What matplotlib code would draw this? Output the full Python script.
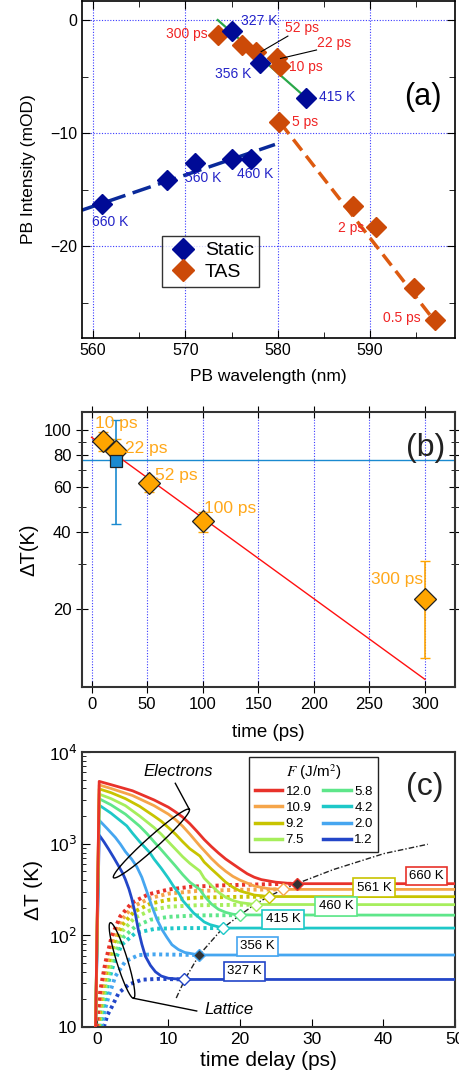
import numpy as np
import matplotlib
matplotlib.use('Agg')
import matplotlib.pyplot as plt
from matplotlib.ticker import FixedLocator, NullFormatter, FixedFormatter, MultipleLocator
from matplotlib.lines import Line2D

plt.rcParams['font.family'] = ['Liberation Sans', 'DejaVu Sans']

# ---------------- data (a) ----------------
static_wl = [575.1, 578.1, 583.1, 577.1, 575.0, 571.0, 568.0, 561.0]
static_pb = [-1.0, -3.8, -6.9, -12.3, -12.3, -12.6, -14.1, -16.3]
tas_wl = [573.5, 576.1, 577.7, 579.9, 580.2, 580.1, 588.1, 590.6, 594.8, 597.0]
tas_pb = [-1.3, -2.2, -2.8, -3.4, -4.1, -9.0, -16.4, -18.3, -23.7, -26.5]
green_fit_wl = [573.5, 583.1]
green_fit_pb = [0.0, -6.9]
navy_fit_wl = [558.8, 579.7]
navy_fit_pb = [-16.8, -11.0]
orange_fit_wl = [580.3, 597.0]
orange_fit_pb = [-9.1, -26.6]
static_text = ["327 K", "356 K", "415 K", "460 K", "560 K", "660 K"]
static_text_xy = [(578.0, -0.06), (575.2, -4.8), (586.4, -6.8), (577.6, -13.65), (571.9, -14.0), (561.8, -17.85)]
tas_text = ["300 ps", "52 ps", "22 ps", "10 ps", "5 ps", "2 ps", "0.5 ps"]
tas_text_xy = [(570.2, -1.27), (582.6, -0.73), (586.1, -2.06), (583.0, -4.19), (583.0, -9.05), (588.0, -18.4), (593.4, -26.3)]

# ---------------- data (b) ----------------
b_time = [10, 22, 52, 100, 300]
b_dT = [90.6, 83, 62, 43.9, 21.9]
b_lo = [83, 77, 57, 40, 12.9]
b_hi = [98.5, 92, 66, 48, 30.8]
b_text = ["10 ps", "22 ps", "52 ps", "100 ps", "300 ps"]
b_text_xy = [(22.5, 106.2), (49.5, 84.8), (76.5, 66.1), (125.1, 49.4), (274.5, 26.1)]
sq_time = [22]
sq_dT = [75.8]
sq_lo = [43]
sq_hi = [109]
fit_time = [0, 300]
fit_dT = [93.6, 10.6]
hline_dT = 76

# ---------------- data (c) ----------------
fluences = ["12.0", "10.9", "9.2", "7.5", "5.8", "4.2", "2.0", "1.2"]
colors_c = ["#e8322a", "#f5a54a", "#c8c400", "#a6ee5c", "#5ee68a", "#1ec8c8", "#46a6f0", "#2346c8"]

el_t_12_0 = [-0.15, 0.35, 2, 5, 8, 10, 11, 12, 13, 14, 15, 16, 17, 18, 19, 20, 21, 22, 23, 25, 27, 28, 50]
el_T_12_0 = [10, 4780, 4400, 3775, 3000, 2500, 2220, 1950, 1650, 1360, 1110, 930, 790, 680, 600, 530, 470, 430, 405, 380, 368, 366, 366]
el_t_10_9 = [-0.15, 0.35, 2, 5, 8, 10, 11, 12, 13, 14.4, 15, 16, 17, 18, 19, 20, 22, 24, 26, 50]
el_T_10_9 = [10, 4370, 4000, 3350, 2600, 2100, 1830, 1550, 1270, 944, 840, 690, 580, 500, 440, 400, 345, 322, 317, 317]
el_t_9_2 = [-0.15, 0.35, 2, 4, 6, 8, 9, 10, 11, 12, 13, 14.4, 15, 16, 17, 18, 19, 20, 22, 24, 50]
el_T_9_2 = [10, 3960, 3600, 3100, 2550, 2000, 1760, 1500, 1270, 1050, 880, 733, 630, 530, 450, 380, 335, 305, 275, 265, 264]
el_t_7_5 = [-0.15, 0.35, 2, 4, 6, 8, 9, 10, 11, 12, 13, 14.4, 15, 16, 17, 18, 19, 20, 22, 50]
el_T_7_5 = [10, 3470, 3100, 2600, 2000, 1500, 1270, 1050, 870, 720, 610, 502, 420, 350, 295, 260, 240, 228, 217, 216]
el_t_5_8 = [-0.15, 0.35, 2, 4, 6, 7, 8, 9, 10, 11, 12, 13, 14.4, 15, 16, 17, 18, 19, 20, 50]
el_T_5_8 = [10, 3090, 2650, 2100, 1550, 1290, 1050, 860, 700, 570, 460, 380, 316, 270, 220, 192, 178, 170, 167, 166]
el_t_4_2 = [-0.15, 0.35, 2, 3, 4.2, 5, 6, 7.4, 8, 9, 10, 10.7, 11.5, 12, 13.5, 15, 15.8, 17.6, 50]
el_T_4_2 = [10, 2630, 2150, 1860, 1563, 1300, 1050, 800, 680, 540, 420, 345, 285, 240, 176, 140, 131, 120, 120]
el_t_2_0 = [-0.15, 0.35, 1.5, 2.6, 3.3, 4, 4.9, 5.6, 6.3, 7, 7.7, 8.4, 9.1, 9.8, 10.5, 11.4, 12.3, 14.3, 50]
el_T_2_0 = [10, 1800, 1450, 1170, 990, 820, 675, 560, 430, 300, 208, 150, 116, 95, 79, 70, 65, 61, 61]
el_t_1_2 = [-0.15, 0.35, 1.0, 1.67, 2.4, 3.06, 3.6, 4.0, 4.5, 4.9, 5.4, 5.8, 6.3, 6.8, 7.5, 8.2, 9.0, 10, 12.2, 50]
el_T_1_2 = [10, 1240, 1050, 870, 700, 570, 480, 408, 320, 250, 170, 116, 80, 59, 47, 40, 36, 34, 33, 33]

la_t_12_0 = [0.0, 0.5, 1.2, 2.1, 3.3, 4.9, 7.2, 10, 13.3, 18, 23, 27.9]
la_T_12_0 = [10, 25, 50, 98, 162, 226, 280, 316, 340, 352, 360, 366]
la_t_10_9 = [0.1, 0.6, 1.3, 2.2, 3.4, 5, 7.5, 10, 14, 20, 26]
la_T_10_9 = [10, 22, 45, 88, 145, 205, 255, 285, 305, 314, 317]
la_t_9_2 = [0.2, 0.7, 1.4, 2.3, 3.5, 5.2, 7.5, 10, 14, 20, 24.1]
la_T_9_2 = [10, 21, 42, 80, 128, 180, 222, 244, 258, 263, 264]
la_t_7_5 = [0.3, 0.8, 1.5, 2.4, 3.6, 5.3, 7.5, 10, 14, 22.2]
la_T_7_5 = [10, 20, 38, 72, 112, 155, 188, 205, 213, 216]
la_t_5_8 = [0.4, 0.9, 1.6, 2.5, 3.7, 5.4, 7.5, 10, 14, 20]
la_T_5_8 = [10, 19, 35, 62, 95, 125, 148, 159, 165, 166]
la_t_4_2 = [0.5, 1.0, 1.7, 2.4, 3.5, 5.4, 8.2, 12, 17.6]
la_T_4_2 = [10, 18, 32, 50, 79, 106, 118, 120, 120]
la_t_2_0 = [0.7, 1.2, 1.67, 2.6, 4.0, 5.85, 8, 14.3]
la_T_2_0 = [10, 16, 21.6, 35.7, 52, 61, 62, 61]
la_t_1_2 = [1.0, 1.5, 2.13, 3.06, 4.46, 6.3, 8.6, 12.2]
la_T_1_2 = [10, 13.5, 16.7, 23.5, 29, 32.8, 33.5, 33]

eq_t = [27.9, 26, 24.1, 22.2, 20, 17.6, 14.3, 12.2]
eq_T = [366, 317, 264, 216, 166, 120, 61, 33]
eq_filled = [True, False, False, False, False, False, True, False]

dashdot_t = [11.1, 12.3, 14.3, 17.6, 20, 22, 24.1, 26, 27.9, 33, 40.1, 46.2]
dashdot_T = [20.7, 33, 61, 120, 166, 216, 268, 316, 366, 521, 780, 985]

temp_text = ["660 K", "561 K", "460 K", "415 K", "356 K", "327 K"]
temp_text_xy = [(46.0, 446), (38.7, 331), (33.4, 207), (26.0, 149), (22.4, 76), (20.6, 40.4)]
temp_text_color = ["#e8322a", "#c8c400", "#5ee68a", "#1ec8c8", "#46a6f0", "#2346c8"]

electrons = [(el_t_12_0, el_T_12_0), (el_t_10_9, el_T_10_9), (el_t_9_2, el_T_9_2), (el_t_7_5, el_T_7_5),
             (el_t_5_8, el_T_5_8), (el_t_4_2, el_T_4_2), (el_t_2_0, el_T_2_0), (el_t_1_2, el_T_1_2)]
lattice = [(la_t_12_0, la_T_12_0), (la_t_10_9, la_T_10_9), (la_t_9_2, la_T_9_2), (la_t_7_5, la_T_7_5),
           (la_t_5_8, la_T_5_8), (la_t_4_2, la_T_4_2), (la_t_2_0, la_T_2_0), (la_t_1_2, la_T_1_2)]

W, H = 459, 1082
fig = plt.figure(figsize=(W / 100, H / 100), dpi=100)

def add_ax(left, right, top, bottom):
    return fig.add_axes([left / W, 1 - bottom / H, (right - left) / W, (bottom - top) / H])

# ================= panel (a) =================
axA = add_ax(82, 455, 1, 338)
gridc = '#3a3aff'
for xv in [560, 570, 580, 590]:
    axA.axvline(xv, color=gridc, ls=(0, (1, 1.5)), lw=0.8, zorder=0)
for yv in [0, -10, -20]:
    axA.axhline(yv, color=gridc, ls=(0, (1, 1.5)), lw=0.8, zorder=0)
axA.plot(green_fit_wl, green_fit_pb, color='#2aa84a', lw=1.6, zorder=2)
axA.plot(navy_fit_wl, navy_fit_pb, color='#0a2a9a', lw=2.5, ls=(0, (5.5, 2.2)), zorder=2)
axA.plot(orange_fit_wl, orange_fit_pb, color='#dd5a10', lw=2.5, ls=(0, (4, 2)), zorder=2)
axA.plot(tas_wl, tas_pb, 'D', color='#cc4a08', ms=10, mec='#cc4a08', zorder=4, label='TAS')
axA.plot(static_wl, static_pb, 'D', color='#000a96', ms=10, zorder=5, label='Static')
for s, (x, y) in zip(static_text, static_text_xy):
    axA.text(x, y, s, color='#2424c8', fontsize=10, ha='center', va='center', zorder=6)
for s, (x, y) in zip(tas_text, tas_text_xy):
    axA.text(x, y, s, color='#f02424', fontsize=10, ha='center', va='center', zorder=6)
axA.plot([581.1, 578.2], [-1.42, -2.8], color='k', lw=0.8, zorder=6)
axA.plot([584.2, 580.3], [-2.65, -3.4], color='k', lw=0.8, zorder=6)
axA.set_xlim(558.8, 599.2)
axA.set_ylim(-28.1, 1.68)
axA.xaxis.set_major_locator(FixedLocator([560, 570, 580, 590]))
axA.xaxis.set_minor_locator(MultipleLocator(5))
axA.yaxis.set_major_locator(FixedLocator([0, -10, -20]))
axA.yaxis.set_minor_locator(FixedLocator([-5, -15, -25]))
axA.tick_params(which='both', direction='in', top=True, right=True, labelsize=11.5)
axA.tick_params(which='major', length=6)
axA.tick_params(which='minor', length=4)
axA.set_xlabel('PB wavelength (nm)', fontsize=12.5, labelpad=8)
axA.set_ylabel('PB Intensity (mOD)', fontsize=12.5, labelpad=10)
h_static = Line2D([], [], marker='D', color='#000a96', ls='none', ms=11)
h_tas = Line2D([], [], marker='D', color='#cc4a08', ls='none', ms=11)
legA = axA.legend([h_static, h_tas], ['Static', 'TAS'], loc='upper left', bbox_to_anchor=(0.2145, 0.3027),
                  fontsize=14, frameon=True, fancybox=False, borderpad=0.3, handletextpad=0.3,
                  handlelength=1.6, labelspacing=0.2, borderaxespad=0)
legA.get_frame().set_edgecolor('k')
legA.get_frame().set_linewidth(1.0)
axA.text(0.914, 0.715, '(a)', transform=axA.transAxes, fontsize=22, ha='center', va='center')
for sp in axA.spines.values():
    sp.set_linewidth(1.2)

# ================= panel (b) =================
axB = add_ax(82, 455, 412, 687)
axB.set_yscale('log')
for xv in range(0, 301, 50):
    axB.axvline(xv, color=gridc, ls=(0, (1, 1.5)), lw=0.8, zorder=0)
axB.axhline(hline_dT, color='#1a8ad0', lw=1.0, zorder=1)
axB.plot(fit_time, fit_dT, color='#ff1010', lw=1.0, zorder=2)
b_err = [np.array(b_dT) - np.array(b_lo), np.array(b_hi) - np.array(b_dT)]
axB.errorbar(b_time, b_dT, yerr=b_err, fmt='none', ecolor='#ffa500', elinewidth=1.2, capsize=3.5, zorder=3)
sq_err = [np.array(sq_dT) - np.array(sq_lo), np.array(sq_hi) - np.array(sq_dT)]
axB.errorbar(sq_time, sq_dT, yerr=sq_err, fmt='none', ecolor='#1a8ad0', elinewidth=1.2, capsize=3.5, zorder=3)
axB.plot(b_time, b_dT, 'D', color='#ffa500', mec='#222222', mew=0.9, ms=11, zorder=4)
axB.plot(sq_time, sq_dT, 's', color='#1a8ad0', mec='#222222', mew=0.9, ms=9, zorder=5)
for s, (x, y) in zip(b_text, b_text_xy):
    axB.text(x, y, s, color='#ffa81a', fontsize=12.5, ha='center', va='center', zorder=6)
axB.set_xlim(-8.6, 327)
axB.set_ylim(9.9, 117.5)
axB.xaxis.set_major_locator(FixedLocator(list(range(0, 301, 50))))
axB.yaxis.set_major_locator(FixedLocator([20, 40, 60, 80, 100]))
axB.yaxis.set_major_formatter(FixedFormatter(['20', '40', '60', '80', '100']))
axB.yaxis.set_minor_locator(FixedLocator([30, 50, 70, 90]))
axB.yaxis.set_minor_formatter(NullFormatter())
axB.tick_params(which='both', direction='inout', top=True, right=True, labelsize=12)
axB.tick_params(which='major', length=8)
axB.tick_params(which='minor', length=6)
axB.set_xlabel('time (ps)', fontsize=13.5, labelpad=8)
axB.set_ylabel('ΔT(K)', fontsize=14.5, labelpad=4)
axB.text(0.92, 0.869, '(b)', transform=axB.transAxes, fontsize=23, ha='center', va='center', color='#222222')
for sp in axB.spines.values():
    sp.set_linewidth(1.5)
    sp.set_color('#333333')

# ================= panel (c) =================
axC = add_ax(82, 455, 752, 1027)
axC.set_yscale('log')
for i in range(len(fluences) - 1, -1, -1):
    t, T = lattice[i]
    axC.plot(t, T, color=colors_c[i], lw=2.8, ls=(0, (0.8, 0.9)), zorder=2 + 0.01 * (8 - i))
for i in range(len(fluences) - 1, -1, -1):
    t, T = electrons[i]
    axC.plot(t, T, color=colors_c[i], lw=2.0, zorder=3 + 0.01 * (8 - i), label=fluences[i])
axC.plot(dashdot_t, dashdot_T, color='#222222', lw=1.0, ls=(0, (4, 1.5, 1, 1.5)), zorder=5)
for i in range(len(eq_t)):
    if eq_filled[i]:
        axC.plot(eq_t[i], eq_T[i], 'D', ms=6, mfc='#333333', mec=colors_c[i], mew=1.0, zorder=6)
    else:
        axC.plot(eq_t[i], eq_T[i], 'D', ms=6, mfc='white', mec=colors_c[i], mew=1.0, zorder=6)
for s, (x, y), c in zip(temp_text, temp_text_xy, temp_text_color):
    axC.text(x, y, s, fontsize=9.5, ha='center', va='center', zorder=7,
             bbox=dict(boxstyle='square,pad=0.25', fc='white', ec=c, lw=1.2))
axC.set_xlim(-2.05, 50)
axC.set_ylim(10, 1e4)
axC.xaxis.set_major_locator(FixedLocator([0, 10, 20, 30, 40, 50]))
axC.yaxis.set_major_locator(FixedLocator([10, 100, 1000, 10000]))
axC.yaxis.set_major_formatter(FixedFormatter(['10', '10$^2$', '10$^3$', '10$^4$']))
axC.tick_params(which='both', direction='in', labelsize=12.5)
axC.tick_params(which='major', length=6)
axC.tick_params(which='minor', length=3)
axC.set_xlabel('time delay (ps)', fontsize=15, labelpad=3)
axC.set_ylabel('ΔT (K)', fontsize=15, labelpad=4)
axC.text(0.92, 0.874, '(c)', transform=axC.transAxes, fontsize=23, ha='center', va='center', color='#222222')
for sp in axC.spines.values():
    sp.set_linewidth(1.5)
    sp.set_color('#333333')

handles = [Line2D([], [], color=colors_c[i], lw=2.5) for i in range(8)]
legC = axC.legend(handles, fluences, ncol=2, loc='upper left', bbox_to_anchor=(0.4485, 0.983),
                  title=r'$F$ (J/m$^2$)', fontsize=9.5, title_fontsize=11, fancybox=False,
                  handlelength=2.1, handletextpad=0.25, columnspacing=0.9, labelspacing=0.3,
                  borderpad=0.4, borderaxespad=0, framealpha=1)
legC.get_title().set_math_fontfamily('stix')
legC.get_frame().set_edgecolor('#222222')
legC.get_frame().set_linewidth(1.0)
legC.set_zorder(10)

# ellipses and leader lines (pixel geometry)
def px_to_axc(px, py):
    return (px - 82) / 373.0, (1027 - py) / 275.0

def ellipse(p1, p2, minor):
    cx, cy = (p1[0] + p2[0]) / 2, (p1[1] + p2[1]) / 2
    dx, dy = p2[0] - p1[0], p2[1] - p1[1]
    L = np.hypot(dx, dy)
    ux, uy = dx / L, dy / L
    vx, vy = -uy, ux
    th = np.linspace(0, 2 * np.pi, 200)
    xs = cx + 0.5 * L * np.cos(th) * ux + 0.5 * minor * np.sin(th) * vx
    ys = cy + 0.5 * L * np.cos(th) * uy + 0.5 * minor * np.sin(th) * vy
    fx, fy = px_to_axc(xs, ys)
    axC.plot(fx, fy, color='k', lw=1.0, transform=axC.transAxes, zorder=8, clip_on=False)

ellipse((113.5, 877.7), (189.3, 809.3), 12)
ellipse((110.3, 922.7), (133.7, 998.3), 11)
x1, y1 = px_to_axc(175.3, 783.3)
x2, y2 = px_to_axc(189.3, 809.3)
axC.plot([x1, x2], [y1, y2], color='k', lw=1.0, transform=axC.transAxes, zorder=8)
x1, y1 = px_to_axc(133.7, 998.3)
x2, y2 = px_to_axc(196.7, 1011)
axC.plot([x1, x2], [y1, y2], color='k', lw=1.0, transform=axC.transAxes, zorder=8)
tx, ty = px_to_axc(178, 772)
axC.text(tx, ty, 'Electrons', style='italic', fontsize=12, ha='center', va='center', transform=axC.transAxes)
tx, ty = px_to_axc(229.3, 1010)
axC.text(tx, ty, 'Lattice', style='italic', fontsize=12, ha='center', va='center', transform=axC.transAxes)

fig.savefig('out.png', dpi=100)
